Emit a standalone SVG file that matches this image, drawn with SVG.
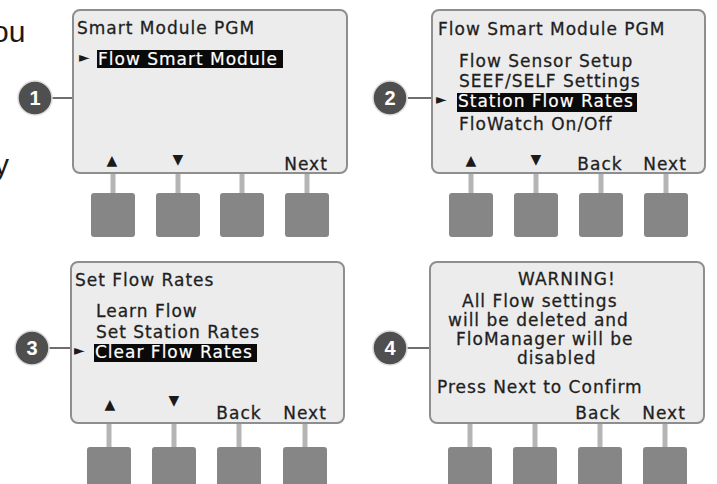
<svg xmlns="http://www.w3.org/2000/svg" width="717" height="484" viewBox="0 0 717 484">
<style>
.bg{fill:#ffffff}
.scr{fill:#ececec;stroke:#8e8e8e;stroke-width:2}
.t{font-family:"DejaVu Sans",Verdana,sans-serif;font-size:17px;letter-spacing:1px;fill:#1f1f1f;stroke:#1f1f1f;stroke-width:0.3}
.hl{fill:#0a0a0a}
.ht{font-family:"DejaVu Sans",Verdana,sans-serif;font-size:17px;letter-spacing:1px;fill:#ffffff;stroke:#ffffff;stroke-width:0.2}
.sym{font-family:"DejaVu Sans",sans-serif;font-size:14px;fill:#1a1a1a;text-anchor:middle}
.ptr{font-family:"DejaVu Sans",sans-serif;font-size:14px;fill:#1a1a1a}
.lbl{font-family:"DejaVu Sans",Verdana,sans-serif;font-size:17px;letter-spacing:1px;fill:#1f1f1f;stroke:#1f1f1f;stroke-width:0.3;text-anchor:middle}
.stem{stroke:#b5b5b5;stroke-width:5}
.btn{fill:#868686}
.num{fill:#4f4f4f;stroke:#dddddd;stroke-width:1.5}
.nt{font-family:"Liberation Sans",Arial,sans-serif;font-size:20px;font-weight:bold;fill:#ffffff;text-anchor:middle}
.conn{stroke:#6e6e6e;stroke-width:2}
.body{font-family:"Liberation Sans",Arial,sans-serif;font-size:30px;fill:#1a1a1a}
</style>
<rect class="bg" x="0" y="0" width="717" height="484"/>
<g id="side-text">
<text class="body" x="-8" y="42">ou</text>
<text class="body" x="-6" y="175">y</text>
</g>
<g id="connectors">
<line class="conn" x1="52" y1="98" x2="73" y2="98"/>
<line class="conn" x1="408" y1="98" x2="432" y2="98"/>
<line class="conn" x1="49" y1="348" x2="71" y2="348"/>
<line class="conn" x1="407" y1="348" x2="430" y2="348"/>
</g>
<g id="step1">
<line class="stem" x1="113" y1="173" x2="113" y2="194"/>
<line class="stem" x1="178" y1="173" x2="178" y2="194"/>
<line class="stem" x1="242" y1="173" x2="242" y2="194"/>
<line class="stem" x1="307" y1="173" x2="307" y2="194"/>
<rect class="btn" x="91" y="193" width="44" height="44" rx="3"/>
<rect class="btn" x="156" y="193" width="44" height="44" rx="3"/>
<rect class="btn" x="220" y="193" width="44" height="44" rx="3"/>
<rect class="btn" x="285" y="193" width="44" height="44" rx="3"/>
<rect class="scr" x="73" y="10" width="274" height="163" rx="7"/>
<text class="t" x="77" y="34">Smart Module PGM</text>
<text class="ptr" x="79" y="62">►</text>
<rect class="hl" x="97" y="50" width="186" height="18"/>
<text class="ht" x="98" y="65">Flow Smart Module</text>
<text class="sym" x="112" y="165">▲</text>
<text class="sym" x="178" y="164">▼</text>
<text class="lbl" x="306" y="170">Next</text>
<circle class="num" cx="35" cy="98" r="17"/>
<text class="nt" x="35" y="105">1</text>
</g>
<g id="step2">
<line class="stem" x1="471" y1="173" x2="471" y2="194"/>
<line class="stem" x1="536" y1="173" x2="536" y2="194"/>
<line class="stem" x1="601" y1="173" x2="601" y2="194"/>
<line class="stem" x1="666" y1="173" x2="666" y2="194"/>
<rect class="btn" x="449" y="193" width="44" height="44" rx="3"/>
<rect class="btn" x="514" y="193" width="44" height="44" rx="3"/>
<rect class="btn" x="579" y="193" width="44" height="44" rx="3"/>
<rect class="btn" x="644" y="193" width="44" height="44" rx="3"/>
<rect class="scr" x="432" y="10" width="273" height="163" rx="7"/>
<text class="t" x="438" y="35">Flow Smart Module PGM</text>
<text class="t" x="459" y="67">Flow Sensor Setup</text>
<text class="t" x="459" y="87">SEEF/SELF Settings</text>
<text class="ptr" x="436" y="104">►</text>
<rect class="hl" x="457" y="93" width="180" height="19"/>
<text class="ht" x="458" y="107">Station Flow Rates</text>
<text class="t" x="459" y="130">FloWatch On/Off</text>
<text class="sym" x="471" y="165">▲</text>
<text class="sym" x="536" y="164">▼</text>
<text class="lbl" x="600" y="170">Back</text>
<text class="lbl" x="665" y="170">Next</text>
<circle class="num" cx="390" cy="98" r="17"/>
<text class="nt" x="390" y="105">2</text>
</g>
<g id="step3">
<line class="stem" x1="109" y1="423" x2="109" y2="448"/>
<line class="stem" x1="174" y1="423" x2="174" y2="448"/>
<line class="stem" x1="239" y1="423" x2="239" y2="448"/>
<line class="stem" x1="305" y1="423" x2="305" y2="448"/>
<rect class="btn" x="87" y="447" width="44" height="44" rx="3"/>
<rect class="btn" x="152" y="447" width="44" height="44" rx="3"/>
<rect class="btn" x="217" y="447" width="44" height="44" rx="3"/>
<rect class="btn" x="283" y="447" width="44" height="44" rx="3"/>
<rect class="scr" x="71" y="262" width="273" height="161" rx="7"/>
<text class="t" x="75" y="286">Set Flow Rates</text>
<text class="t" x="96" y="317">Learn Flow</text>
<text class="t" x="96" y="338">Set Station Rates</text>
<text class="ptr" x="74" y="355">►</text>
<rect class="hl" x="94" y="344" width="163" height="18"/>
<text class="ht" x="95" y="358">Clear Flow Rates</text>
<text class="sym" x="110" y="409">▲</text>
<text class="sym" x="174" y="405">▼</text>
<text class="lbl" x="239" y="419">Back</text>
<text class="lbl" x="305" y="419">Next</text>
<circle class="num" cx="32" cy="348" r="17"/>
<text class="nt" x="32" y="355">3</text>
</g>
<g id="step4">
<line class="stem" x1="470" y1="423" x2="470" y2="448"/>
<line class="stem" x1="535" y1="423" x2="535" y2="448"/>
<line class="stem" x1="600" y1="423" x2="600" y2="448"/>
<line class="stem" x1="665" y1="423" x2="665" y2="448"/>
<rect class="btn" x="448" y="447" width="44" height="44" rx="3"/>
<rect class="btn" x="513" y="447" width="44" height="44" rx="3"/>
<rect class="btn" x="578" y="447" width="44" height="44" rx="3"/>
<rect class="btn" x="643" y="447" width="44" height="44" rx="3"/>
<rect class="scr" x="430" y="262" width="274" height="161" rx="7"/>
<text class="t" x="518" y="285">WARNING!</text>
<text class="t" x="462" y="307">All Flow settings</text>
<text class="t" x="448" y="326">will be deleted and</text>
<text class="t" x="456" y="345">FloManager will be</text>
<text class="t" x="517" y="364">disabled</text>
<text class="t" x="437" y="393">Press Next to Confirm</text>
<text class="lbl" x="598" y="419">Back</text>
<text class="lbl" x="664" y="419">Next</text>
<circle class="num" cx="390" cy="348" r="17"/>
<text class="nt" x="390" y="355">4</text>
</g>
</svg>
